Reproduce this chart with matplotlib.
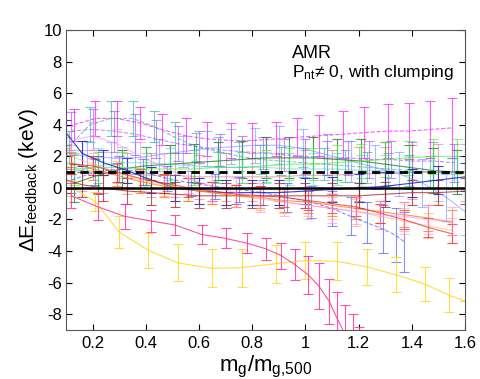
import numpy as np
import matplotlib
matplotlib.use('Agg')
import matplotlib.pyplot as plt

plt.rcParams['font.family'] = ['Liberation Sans', 'DejaVu Sans']
plt.rcParams['mathtext.default'] = 'regular'
plt.rcParams['axes.unicode_minus'] = False

# --- datos ---
x_a = [0.13, 0.21, 0.29, 0.38, 0.46, 0.55, 0.63, 0.72, 0.80, 0.89, 0.97, 1.05, 1.14, 1.22, 1.31, 1.39, 1.47, 1.55]
mag_y = [4.0, 4.4, 4.4, 4.1, 3.7, 3.3, 3.1, 3.0, 3.0, 3.1, 3.2, 3.3, 3.4, 3.5, 3.6, 3.6, 3.7, 3.8]
mag_e = [1.0, 1.1, 1.1, 1.0, 1.0, 1.1, 1.1, 1.1, 1.1, 1.1, 1.2, 1.3, 1.5, 1.6, 1.7, 1.8, 1.8, 1.9]

x_b = [0.12, 0.20, 0.28, 0.36, 0.44, 0.52, 0.60, 0.68, 0.76, 0.84, 0.92, 1.00, 1.08, 1.16, 1.24, 1.32, 1.40, 1.48, 1.56]
pur_y = [3.6, 3.7, 3.6, 3.4, 3.1, 2.8, 2.6, 2.4, 2.3, 2.2, 2.1, 2.0, 1.9, 1.9, 1.8, 1.8, 1.7, 1.7, 1.6]
pur_e = [1.2, 1.3, 1.3, 1.3, 1.2, 1.1, 1.0, 1.0, 1.0, 1.0, 1.0, 1.1, 1.1, 1.1, 1.2, 1.2, 1.2, 1.2, 1.2]

x_c = [0.11, 0.19, 0.27, 0.35, 0.43, 0.51, 0.59, 0.67, 0.75, 0.83, 0.91, 0.99, 1.07, 1.15, 1.23, 1.31, 1.39, 1.47, 1.55]
teal_y = [2.6, 4.0, 4.4, 4.4, 3.9, 3.2, 2.6, 2.3, 2.0, 1.8, 1.7, 1.6, 1.5, 1.4, 1.3, 1.2, 1.1, 1.0, 0.9]
teal_e = [1.0, 1.1, 1.1, 1.1, 1.0, 1.0, 0.9, 0.9, 0.9, 0.9, 0.9, 0.9, 1.0, 1.0, 1.0, 1.0, 1.0, 1.0, 1.0]

x_d = [0.10, 0.18, 0.27, 0.36, 0.45, 0.54, 0.63, 0.72, 0.81, 0.90, 0.99, 1.08, 1.17, 1.26, 1.35, 1.44, 1.53, 1.60]
lb_y = [2.2, 2.0, 1.9, 1.9, 2.1, 2.3, 2.5, 2.6, 2.7, 2.7, 2.5, 2.1, 1.7, 1.3, 0.9, 0.3, -0.6, -1.5]
lb_e = [1.0, 1.0, 1.0, 1.0, 1.0, 1.0, 1.1, 1.1, 1.1, 1.2, 1.2, 1.3, 1.3, 1.4, 1.4, 1.5, 1.5, 1.5]

x_e = [0.12, 0.21, 0.30, 0.39, 0.48, 0.57, 0.66, 0.75, 0.84, 0.93, 1.02, 1.10, 1.17, 1.23, 1.29, 1.34, 1.37]
bd_y = [0.5, 1.0, 1.2, 1.0, 0.6, 0.3, 0.1, -0.1, -0.3, -0.6, -0.9, -1.3, -1.8, -2.2, -2.6, -3.0, -3.4]
bd_e = [0.8, 0.8, 0.8, 0.8, 0.8, 0.8, 0.8, 0.8, 0.8, 0.9, 1.0, 1.1, 1.2, 1.3, 1.5, 1.7, 1.9]

x_f = [0.13, 0.22, 0.31, 0.40, 0.49, 0.58, 0.67, 0.76, 0.85, 0.94, 1.03, 1.12, 1.21, 1.30, 1.39, 1.48, 1.57]
dg_y = [0.3, 0.8, 1.2, 1.4, 1.5, 1.6, 1.7, 1.8, 1.9, 1.9, 1.9, 1.8, 1.7, 1.5, 1.3, 1.1, 1.0]
dg_e = [1.2, 1.2, 1.2, 1.2, 1.2, 1.2, 1.2, 1.2, 1.3, 1.3, 1.3, 1.3, 1.4, 1.4, 1.4, 1.4, 1.4]
lg_y = [1.2, 1.3, 1.3, 1.2, 1.2, 1.2, 1.3, 1.3, 1.4, 1.5, 1.5, 1.6, 1.7, 1.8, 1.9, 2.0, 2.0]
lg_e = [1.0, 1.0, 1.0, 1.0, 1.0, 1.0, 1.0, 1.0, 1.0, 1.0, 1.0, 1.1, 1.1, 1.1, 1.1, 1.1, 1.1]
cy_y = [1.0, 1.4, 1.6, 1.6, 1.5, 1.4, 1.3, 1.3, 1.3, 1.2, 1.2, 1.2, 1.1, 1.1, 1.0, 1.0, 1.0]
cy_e = [1.1, 1.1, 1.0, 1.0, 1.0, 1.0, 1.0, 1.0, 1.0, 1.0, 1.0, 1.0, 1.0, 1.0, 1.0, 1.0, 1.0]

x_g = [0.10, 0.16, 0.24, 0.33, 0.42, 0.51, 0.60, 0.70, 0.80, 0.90, 1.00, 1.10, 1.20, 1.30, 1.40, 1.50, 1.60]
bs_y = [3.5, 2.2, 1.6, 1.1, 0.5, 0.0, -0.2, -0.3, -0.3, -0.3, -0.2, -0.1, 0.0, 0.1, 0.3, 0.5, 0.7]
bs_e = [0.8, 0.8, 0.8, 0.8, 0.8, 0.8, 0.8, 0.8, 0.8, 0.8, 0.8, 0.8, 0.9, 0.9, 0.9, 0.9, 0.9]
dr_y = [0.5, 0.2, 0.0, -0.2, -0.3, -0.4, -0.5, -0.5, -0.5, -0.5, -0.5, -0.5, -0.5, -0.4, -0.3, -0.3, -0.2]
dr_e = [0.8, 0.8, 0.8, 0.8, 0.8, 0.8, 0.8, 0.8, 0.8, 0.8, 0.8, 0.8, 0.8, 0.8, 0.8, 0.8, 0.8]
rb_y = [1.2, 1.1, 1.0, 0.9, 0.8, 0.8, 0.7, 0.7, 0.7, 0.7, 0.8, 0.8, 0.9, 0.9, 1.0, 1.0, 1.0]
rb_e = [1.3, 1.3, 1.3, 1.3, 1.4, 1.4, 1.4, 1.5, 1.5, 1.5, 1.6, 1.6, 1.7, 1.7, 1.7, 1.8, 1.8]

x_h = [0.12, 0.20, 0.29, 0.38, 0.47, 0.56, 0.65, 0.74, 0.83, 0.92, 1.01, 1.10, 1.19, 1.28, 1.37, 1.46, 1.55]
or_y = [1.6, 1.2, 0.8, 0.4, 0.1, -0.1, -0.3, -0.5, -0.6, -0.8, -0.9, -1.1, -1.3, -1.5, -1.7, -1.9, -2.2]
or_e = [0.7, 0.7, 0.7, 0.7, 0.7, 0.7, 0.7, 0.7, 0.7, 0.7, 0.7, 0.7, 0.7, 0.7, 0.8, 0.8, 0.8]
red_y = [1.5, 1.4, 1.0, 0.6, 0.3, 0.0, -0.2, -0.4, -0.5, -0.6, -0.8, -1.0, -1.2, -1.6, -2.0, -2.5, -2.9]
red_e = [0.6, 0.6, 0.6, 0.6, 0.6, 0.6, 0.6, 0.6, 0.6, 0.6, 0.6, 0.6, 0.6, 0.6, 0.6, 0.6, 0.6]
pe_y = [2.0, 1.5, 1.0, 0.5, 0.2, -0.1, -0.3, -0.5, -0.7, -0.9, -1.1, -1.3, -1.5, -1.8, -2.1, -2.4, -2.7]
pe_e = [0.7, 0.7, 0.7, 0.7, 0.7, 0.7, 0.7, 0.7, 0.7, 0.7, 0.7, 0.7, 0.8, 0.8, 0.8, 0.8, 0.8]
lp_y = [3.0, 3.3, 2.8, 2.0, 1.3, 0.6, 0.1, -0.3, -0.6, -0.9, -1.1, -1.3, -1.5, -1.7, -1.8, -2.0, -2.1]
lp_e = [0.9, 0.9, 0.9, 0.9, 0.9, 0.9, 0.9, 0.9, 0.9, 0.9, 0.9, 0.9, 0.9, 0.9, 0.9, 0.9, 0.9]

hp_x = [0.12, 0.22, 0.32, 0.42, 0.51, 0.61, 0.70, 0.78, 0.85, 0.91, 0.96, 1.01, 1.05, 1.09, 1.12, 1.15, 1.18, 1.20]
hp_y = [-0.5, -1.2, -1.8, -2.1, -2.35, -2.95, -3.2, -3.5, -3.85, -4.3, -4.85, -5.5, -6.2, -7.2, -8.3, -9.3, -10.0, -11.0]
hp_e = [0.8, 0.85, 0.8, 0.72, 0.66, 0.63, 0.63, 0.65, 0.7, 0.82, 1.0, 1.2, 1.45, 1.45, 1.7, 1.9, 2.0, 2.2]

gd_x = [0.12, 0.21, 0.30, 0.41, 0.52, 0.65, 0.76, 0.89, 1.00, 1.12, 1.23, 1.34, 1.45, 1.54, 1.60]
gd_y = [0.0, -0.85, -2.8, -3.95, -4.75, -5.1, -5.05, -4.8, -4.6, -4.65, -5.0, -5.5, -6.1, -6.8, -7.15]
gd_e = [0.5, 0.6, 1.0, 1.1, 1.17, 1.2, 1.2, 1.2, 1.18, 1.2, 1.15, 1.1, 1.07, 1.07, 0.0]

ref_dashed = 1.0
ref_solid = 0.0

xticks = [0.2, 0.4, 0.6, 0.8, 1.0, 1.2, 1.4, 1.6]
xtick_labels = ['0.2', '0.4', '0.6', '0.8', '1', '1.2', '1.4', '1.6']
yticks = [-8, -6, -4, -2, 0, 2, 4, 6, 8, 10]

# (x, y, err, color, linestyle, alpha)
series = [
    (x_a, mag_y, mag_e, '#ff22ff', '--', 0.75),
    (x_b, pur_y, pur_e, '#9944ff', '--', 0.6),
    (x_c, teal_y, teal_e, '#22aa99', '--', 0.6),
    (x_d, lb_y, lb_e, '#6688ff', '-', 0.55),
    (x_f, dg_y, dg_e, '#2a7a2a', '-', 0.8),
    (x_f, lg_y, lg_e, '#55ee33', '-', 0.7),
    (x_f, cy_y, cy_e, '#33cccc', '-', 0.5),
    (x_g, rb_y, rb_e, '#bb6666', '-', 0.5),
    (x_e, bd_y, bd_e, '#4455ff', '--', 0.65),
    (x_g, bs_y, bs_e, '#1122cc', '-', 0.85),
    (x_g, dr_y, dr_e, '#aa2222', '-', 0.75),
    (x_h, pe_y, pe_e, '#ffaa66', '-', 0.6),
    (x_h, or_y, or_e, '#ff7711', '-', 0.75),
    (x_h, red_y, red_e, '#ee2222', '-', 0.7),
    (x_h, lp_y, lp_e, '#ff88ee', '-', 0.6),
    (gd_x, gd_y, gd_e, '#ffd722', '-', 0.85),
    (hp_x, hp_y, hp_e, '#ff3399', '-', 0.85),
]

fig = plt.figure(figsize=(4.8, 3.79), dpi=100)
ax = fig.add_axes([66 / 480, 49 / 379, 399 / 480, 300 / 379])

for xs, ys, es, col, ls, a in series:
    ax.errorbar(xs, ys, yerr=es, color=col, linestyle=ls, linewidth=0.8,
                elinewidth=0.8, capsize=3.5, capthick=0.8, alpha=a)

ax.axhline(ref_dashed, color='black', linestyle='--', linewidth=2, dashes=(3, 2), zorder=10)
ax.axhline(ref_solid, color='black', linestyle='-', linewidth=1.8, zorder=10)

ax.set_xlim(0.1, 1.6)
ax.set_ylim(-9, 10)
ax.set_xticks(xticks)
ax.set_xticklabels(xtick_labels)
ax.set_yticks(yticks)
ax.tick_params(direction='in', top=True, right=True, length=4, width=0.8,
               labelsize=12, pad=3)
ax.tick_params(axis='x', pad=4)
for sp in ax.spines.values():
    sp.set_color('#555555')
    sp.set_linewidth(0.8)

ax.set_xlabel('m$_g$/m$_{g{,}500}$', fontsize=16)
ax.xaxis.set_label_coords(0.5, -0.08)
ax.set_ylabel('ΔE$_{feedback}$ (keV)', fontsize=15)
ax.yaxis.set_label_coords(-0.065, 0.5)

ax.text(0.567, 0.907, 'AMR', transform=ax.transAxes, fontsize=13)
ax.text(0.567, 0.843, 'P$_{nt}$≠ 0, with clumping', transform=ax.transAxes, fontsize=12.5)

plt.savefig('out.png', dpi=100)
